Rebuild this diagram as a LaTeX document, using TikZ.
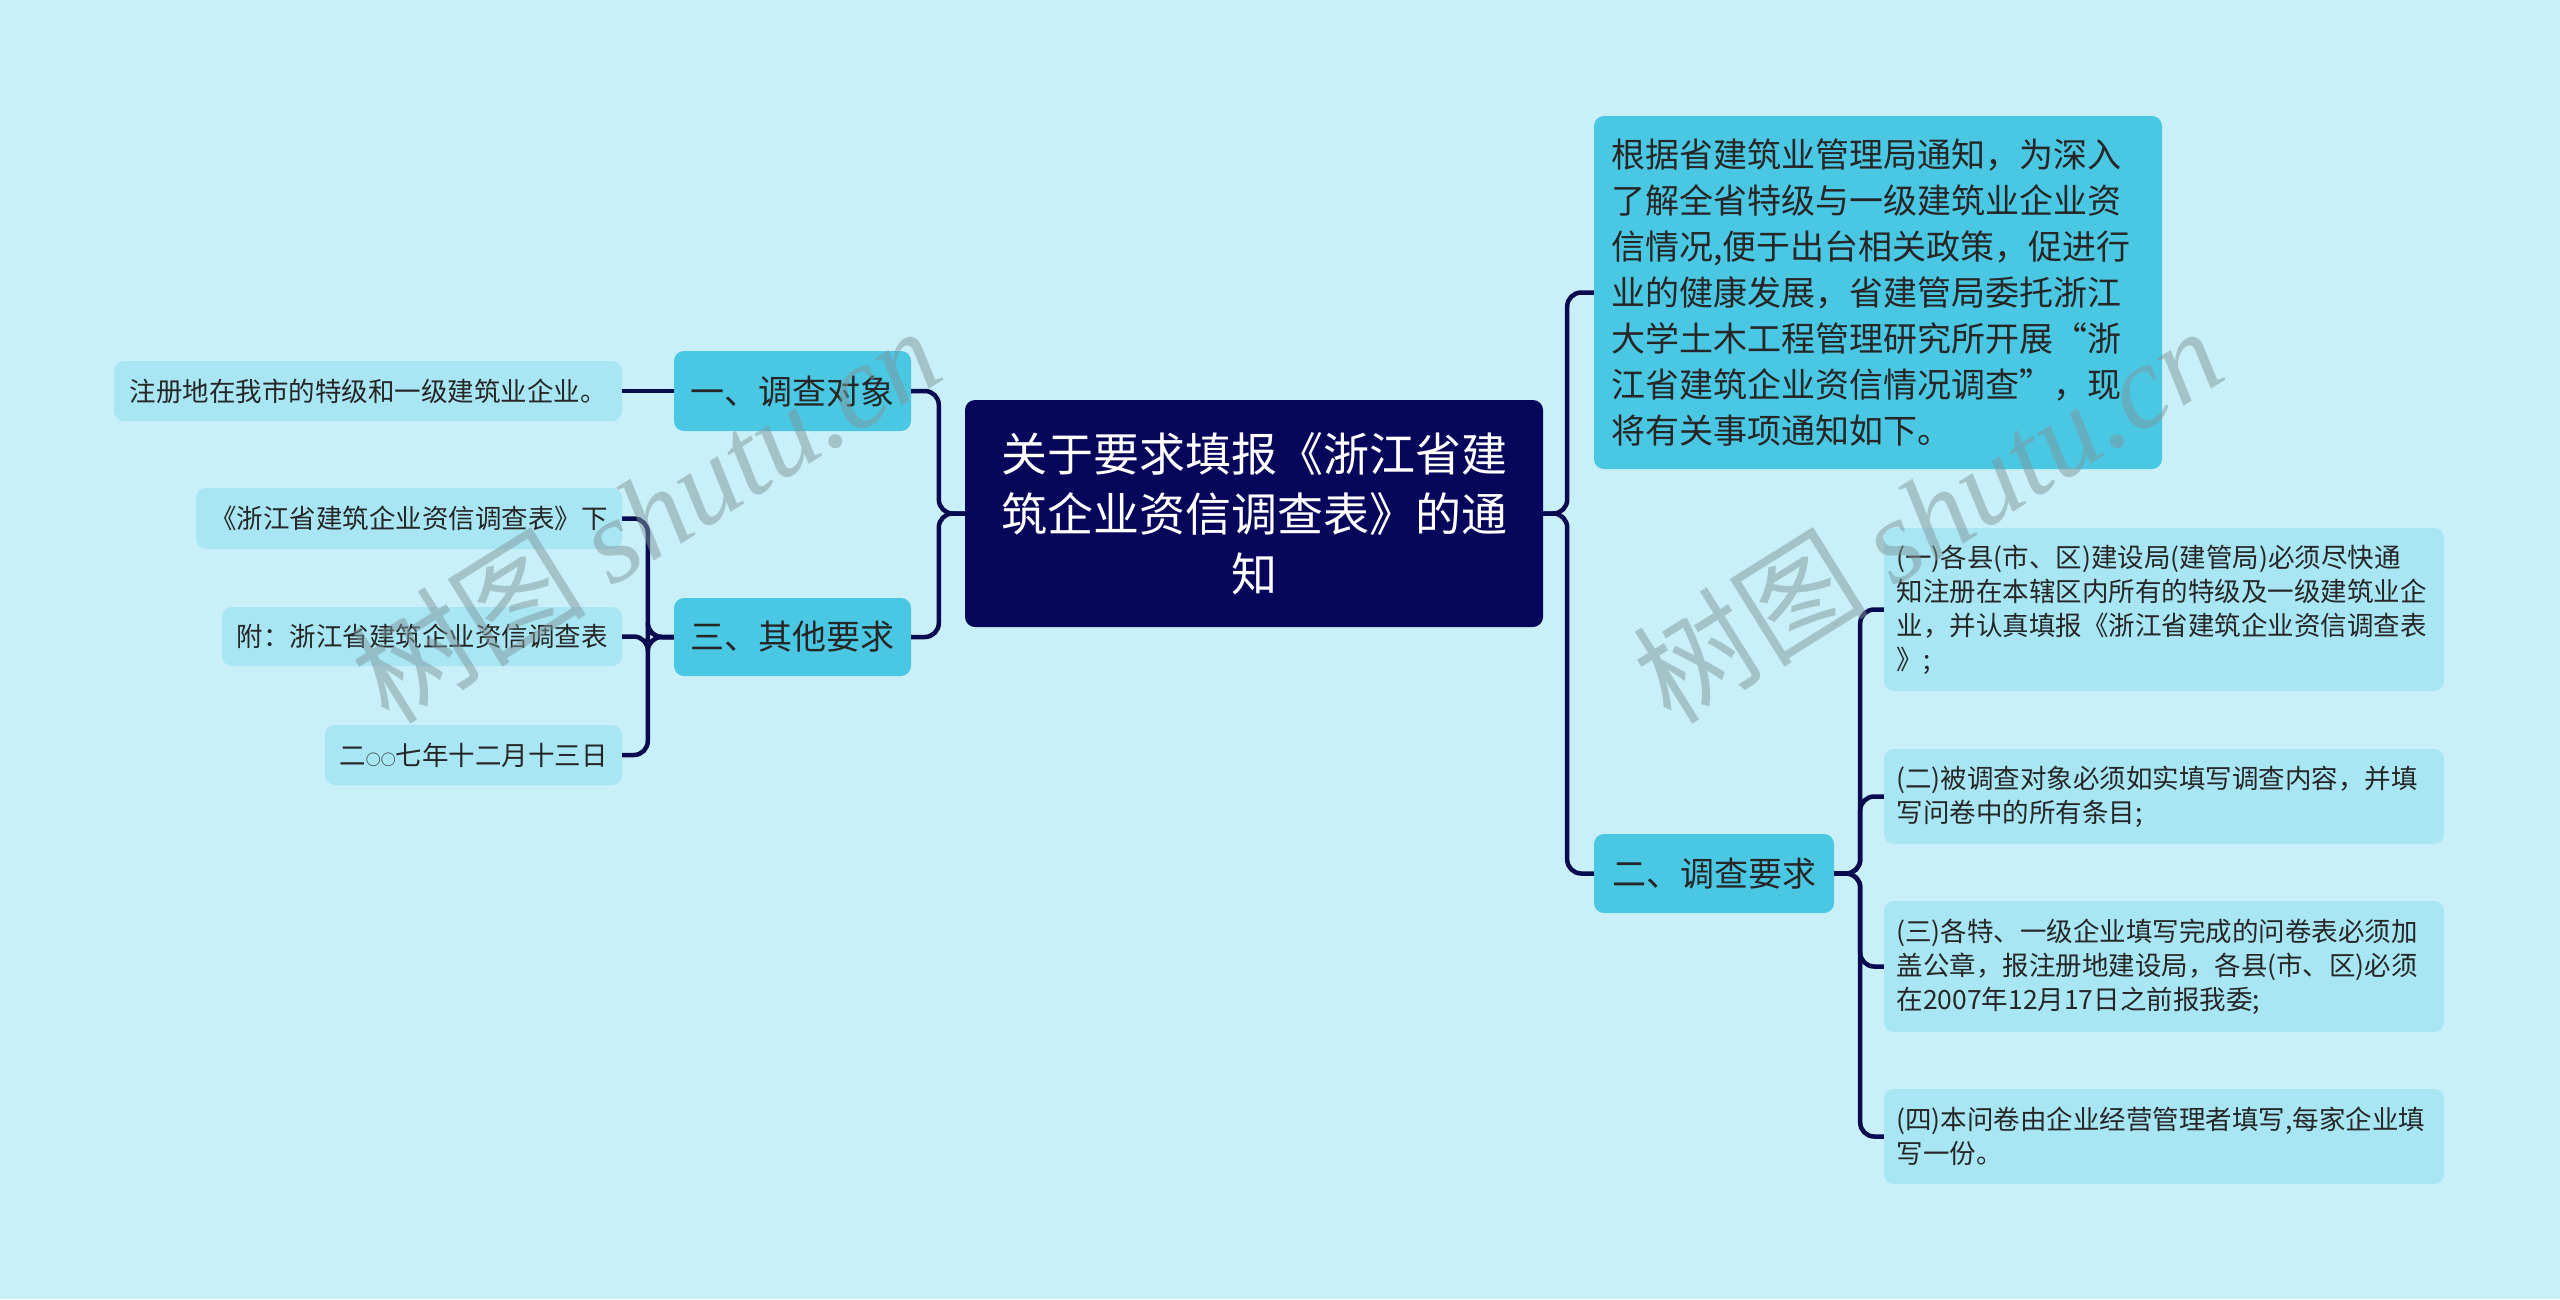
\documentclass[tikz,border=0pt]{standalone}
\usepackage{fontspec}
\setmainfont{Noto Sans CJK SC}
\newfontfamily\wmlatin{Liberation Serif}
\definecolor{bgc}{HTML}{C9F0F8}
\definecolor{rootc}{HTML}{06065A}
\definecolor{midc}{HTML}{4AC8E3}
\definecolor{leafc}{HTML}{A8E6F3}
\definecolor{linec}{HTML}{0A0A50}
\definecolor{txtc}{HTML}{262626}
\definecolor{wmc}{HTML}{7F979C}
\tikzset{
  rootbox/.style={fill=rootc, rounded corners=10, text=white, font=\fontsize{46}{60}\selectfont, align=center, inner sep=0pt},
  midbox/.style={fill=midc, rounded corners=10, text=txtc, font=\fontsize{34}{46}\selectfont, inner sep=0pt},
  leafbox/.style={fill=leafc, rounded corners=10, text=txtc, font=\fontsize{26.5}{34}\selectfont, inner sep=0pt},
  rleaf/.style={leafbox, text width=535pt, inner xsep=12.5pt, align=left},
  link/.style={draw=linec, line width=4.5pt, rounded corners=14pt},
  wmark/.style={text=wmc, opacity=0.5, rotate=32, font=\fontsize{118}{120}\selectfont}
}
\begin{document}
\begin{tikzpicture}[x=1pt,y=-1pt]
\fill[bgc] (0,0) rectangle (2560,1299);
\useasboundingbox (0,0) rectangle (2560,1299);

% root
\node[rootbox, minimum width=578pt, minimum height=227pt] (root) at (1254,513.5)
  {关于要求填报《浙江省建\\筑企业资信调查表》的通\\知};

% right side
\node[midbox, text width=534pt, inner xsep=17pt, minimum height=353pt, align=left] (intro) at (1878,292.5)
  {根据省建筑业管理局通知，为深入\\了解全省特级与一级建筑业企业资\\信情况,便于出台相关政策，促进行\\业的健康发展，省建管局委托浙江\\大学土木工程管理研究所开展“浙\\江省建筑企业资信情况调查”，现\\将有关事项通知如下。};
\node[midbox, minimum width=240pt, minimum height=79pt] (req) at (1714,873.5) {二、调查要求};

\node[rleaf, minimum height=163pt] (r1) at (2164,609.5)
  {(一)各县(市、区)建设局(建管局)必须尽快通\\知注册在本辖区内所有的特级及一级建筑业企\\业，并认真填报《浙江省建筑企业资信调查表\\》;};
\node[rleaf, minimum height=95pt] (r2) at (2164,796.5)
  {(二)被调查对象必须如实填写调查内容，并填\\写问卷中的所有条目;};
\node[rleaf, minimum height=131pt] (r3) at (2164,966.5)
  {(三)各特、一级企业填写完成的问卷表必须加\\盖公章，报注册地建设局，各县(市、区)必须\\在2007年12月17日之前报我委;};
\node[rleaf, minimum height=95pt] (r4) at (2164,1136.5)
  {(四)本问卷由企业经营管理者填写,每家企业填\\写一份。};

% left side
\node[midbox, minimum width=237pt, minimum height=80pt] (obj) at (792.5,391) {一、调查对象};
\node[midbox, minimum width=237pt, minimum height=78pt] (other) at (792.5,637) {三、其他要求};

\node[leafbox, minimum width=508pt, minimum height=60pt] (l1) at (368,391) {注册地在我市的特级和一级建筑业企业。};
\node[leafbox, minimum width=426pt, minimum height=61pt] (l2) at (409,518.5) {《浙江省建筑企业资信调查表》下};
\node[leafbox, minimum width=400pt, minimum height=59pt] (l3) at (422,636.5) {附：浙江省建筑企业资信调查表};
\node[leafbox, minimum width=297pt, minimum height=60pt] (l4) at (473.5,755) {二{\fontsize{15}{34}\selectfont ○○}七年十二月十三日};

% connectors
\draw[link] (root.west) -- ++(-26,0) |- (obj.east);
\draw[link] (root.west) -- ++(-26,0) |- (other.east);
\draw[link] (root.east) -- ++(24,0) |- (intro.west);
\draw[link] (root.east) -- ++(24,0) |- (req.west);
\draw[link] (req.east) -- ++(26,0) |- (r1.west);
\draw[link] (req.east) -- ++(26,0) |- (r2.west);
\draw[link] (req.east) -- ++(26,0) |- (r3.west);
\draw[link] (req.east) -- ++(26,0) |- (r4.west);
\draw[link] (obj.west) -- (l1.east);
\draw[link] (other.west) -- ++(-26,0) |- (l2.east);
\draw[link] (other.west) -- ++(-26,0) |- (l3.east);
\draw[link] (other.west) -- ++(-26,0) |- (l4.east);

% watermarks
\node[wmark] (wm1) at (645,514) {树图 {\wmlatin\itshape shutu.cn}};
\node[wmark] (wm2) at (1927,514) {树图 {\wmlatin\itshape shutu.cn}};
\end{tikzpicture}
\end{document}
